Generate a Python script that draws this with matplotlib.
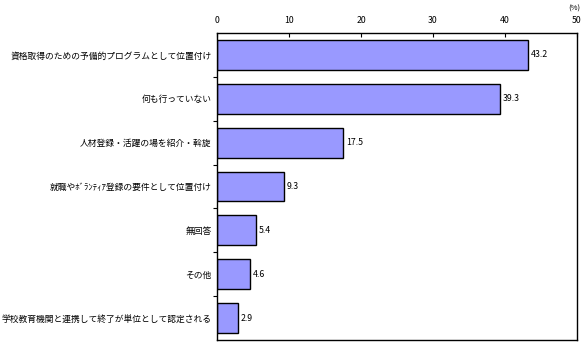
import matplotlib
matplotlib.use("Agg")
import matplotlib.pyplot as plt
import numpy as np

plt.rcParams['font.family'] = ['Noto Sans CJK JP', 'DejaVu Sans']

categories = [
    "資格取得のための予備的プログラムとして位置付け",
    "何も行っていない",
    "人材登録・活躍の場を紹介・斡旋",
    "就職やﾎﾞﾗﾝﾃｨｱ登録の要件として位置付け",
    "無回答",
    "その他",
    "学校教育機関と連携して終了が単位として認定される",
]
values = [43.2, 39.3, 17.5, 9.3, 5.4, 4.6, 2.9]
x_ticks = [0, 10, 20, 30, 40, 50]

fig = plt.figure(figsize=(5.85, 3.55), dpi=100)
ax = fig.add_axes([217 / 585, 1 - 340 / 355, 360 / 585, 307 / 355])

y = np.arange(len(categories))
ax.barh(y, values, height=0.68, color="#9999ff", edgecolor="black", linewidth=1.0)

for yi, v in zip(y, values):
    ax.text(v + 0.4, yi, f"{v:.1f}", va="center", ha="left", fontsize=6.3)

ax.set_xlim(0, 50)
ax.set_ylim(len(categories) - 0.5, -0.5)

# x axis on top, ticks pointing into the plot
ax.xaxis.tick_top()
ax.set_xticks(x_ticks)
ax.set_xticklabels([str(t) for t in x_ticks], fontsize=6.3)
ax.tick_params(axis="x", direction="in", length=3, width=0.8, pad=6)

# category labels, boundary ticks on the left
ax.set_yticks(y)
ax.set_yticklabels(categories, fontsize=6.3)
ax.tick_params(axis="y", which="major", length=0, pad=4)
ax.set_yticks(np.arange(0.5, len(categories) - 0.5, 1), minor=True)
ax.tick_params(axis="y", which="minor", direction="out", length=3, width=0.8)

for s in ax.spines.values():
    s.set_linewidth(1.0)

ax.annotate("(%)", xy=(1.0, 1.0), xycoords="axes fraction",
            xytext=(-2, 15), textcoords="offset points",
            ha="center", va="bottom", fontsize=5.5)

fig.savefig("out.png", dpi=100)
